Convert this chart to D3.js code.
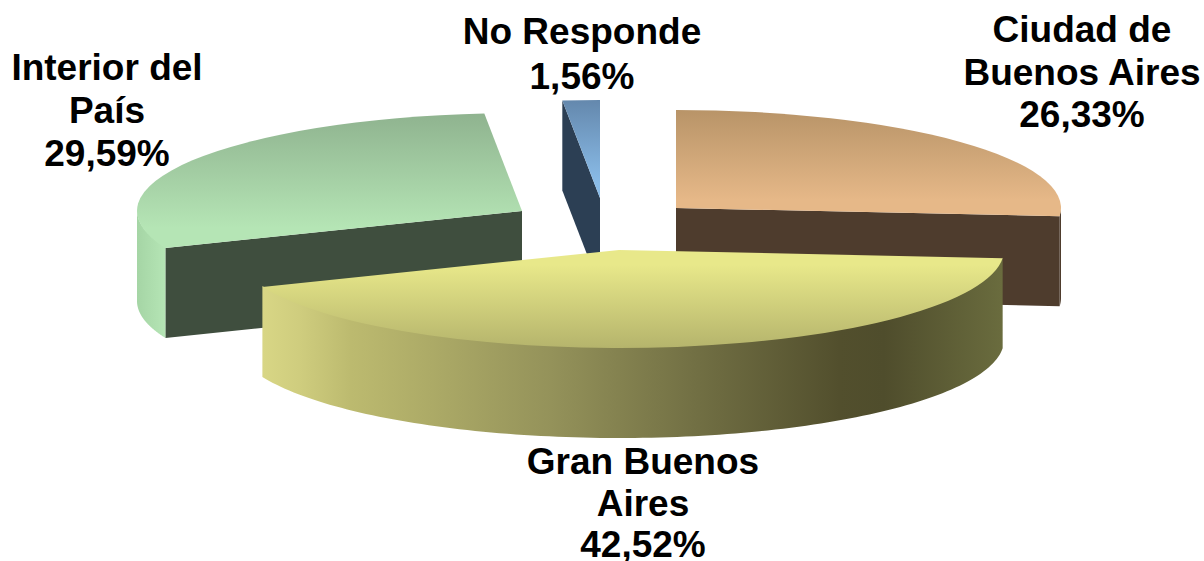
<html>
<head>
<meta charset="utf-8">
<title>Pie chart</title>
<script src="https://d3js.org/d3.v7.min.js"></script>
<style>
  html, body { margin: 0; background: #fff; }
  text { font-family: "Liberation Sans", Arial, sans-serif; font-weight: bold; fill: #000; }
</style>
</head>
<body>
<script>
var categories = ["Ciudad de Buenos Aires", "Gran Buenos Aires", "Interior del País", "No Responde"];
var percents = [26.33, 42.52, 29.59, 1.56];
var percentLabels = ["26,33%", "42,52%", "29,59%", "1,56%"];
var labelLines = [["Ciudad de", "Buenos Aires"], ["Gran Buenos", "Aires"], ["Interior del", "País"], ["No Responde"]];

// Layout and colours of the slices, same order as categories
var width = 1204, height = 561;
var rx = 385, ry = 98, depth = 90;
var centers = [[676, 208], [619, 250], [522, 211], [600, 198]];
var topColors = [["#b89468", "#e6b888"], ["#e8e88a", "#b5b46c"], ["#8fb38f", "#b5e5b5"], ["#6488ad", "#8abce8"]];
var topStops = [[0, 0.85], [0.15, 1], [0, 0.85], [0, 0.85]];
var cutColors = ["#4e3c2d", "#54532f", "#3f4e3e", "#2c3f54"];
var labelPos = [[1082, 42], [643, 474], [107, 80], [582, 44]];
var lineGaps = [42.5, 41.5, 43, 45];
var drawOrder = [2, 3, 0, 1]; // back slices first, Gran Buenos Aires on top

var svg = d3.select("body").append("svg")
    .attr("width", width)
    .attr("height", height)
    .style("display", "block");
var defs = svg.append("defs");

// Vertical gradient of every top face
topColors.forEach(function(c, i) {
  var g = defs.append("linearGradient")
      .attr("id", "top" + i)
      .attr("x1", 0).attr("y1", 0).attr("x2", 0).attr("y2", 1);
  g.append("stop").attr("offset", topStops[i][0]).attr("stop-color", c[0]);
  g.append("stop").attr("offset", topStops[i][1]).attr("stop-color", c[1]);
});

// Horizontal gradients of the round walls
function wallGradient(id, stops) {
  var g = defs.append("linearGradient")
      .attr("id", id)
      .attr("x1", 0).attr("y1", 0).attr("x2", 1).attr("y2", 0);
  stops.forEach(function(s) {
    g.append("stop").attr("offset", s[0]).attr("stop-color", s[1]);
  });
}
wallGradient("wall0", [[0, "#4e3c2d"], [1, "#4e3c2d"]]);
wallGradient("wall1", [[0, "#d8d685"], [0.05, "#cfcd7e"], [0.12, "#bcba6f"], [0.25, "#a9a765"], [0.39, "#94925a"], [0.6, "#6f6d42"], [0.78, "#524f2d"], [0.84, "#4f4d2c"], [1, "#6a6c3e"]]);
wallGradient("wall2", [[0, "#a5d5a5"], [1, "#b5e5b5"]]);
wallGradient("wall3", [[0, "#2c3f54"], [1, "#2c3f54"]]);

// Angles come straight from the values
var pie = d3.pie().sort(null).value(function(d) { return d; });
var slices = pie(percents);
var arc = d3.arc().innerRadius(0).outerRadius(rx);

function px(c, a) { return c[0] + rx * Math.sin(a); }
function py(c, a) { return c[1] - ry * Math.cos(a); }

var line = d3.line().curve(d3.curveLinear);

drawOrder.forEach(function(i) {
  var s = slices[i], c = centers[i];
  var g = svg.append("g");

  // Cut faces: visible when the normal looks down the screen
  [[s.startAngle, -Math.PI / 2], [s.endAngle, Math.PI / 2]].forEach(function(f) {
    if (Math.cos(f[0] + f[1]) >= -1e-6) return;
    var x = px(c, f[0]), y = py(c, f[0]);
    g.append("path")
        .attr("d", line([[c[0], c[1]], [x, y], [x, y + depth], [c[0], c[1] + depth]]) + "Z")
        .attr("fill", cutColors[i]);
  });

  // Round wall, only the front half of the ellipse shows
  // (upper edge goes 1px under the top face so no dark seam shows through)
  var a0 = Math.max(s.startAngle, Math.PI / 2), a1 = Math.min(s.endAngle, Math.PI * 3 / 2);
  if (a1 > a0) {
    var steps = d3.range(0, 121).map(function(k) { return a0 + (a1 - a0) * k / 120; });
    var upper = steps.map(function(a) { return [px(c, a), py(c, a) - 1]; });
    var lower = steps.slice().reverse().map(function(a) { return [px(c, a), py(c, a) + depth]; });
    g.append("path")
        .attr("d", line(upper.concat(lower)) + "Z")
        .attr("fill", "url(#wall" + i + ")");
  }

  // Top face: a d3 arc squashed into the ellipse
  g.append("path")
      .attr("transform", "translate(" + c[0] + "," + c[1] + ") scale(1," + (ry / rx) + ")")
      .attr("d", arc(s))
      .attr("fill", "url(#top" + i + ")");
});

// Labels
categories.forEach(function(name, i) {
  var lines = labelLines[i].concat([percentLabels[i]]);
  var t = svg.append("text")
      .attr("text-anchor", "middle")
      .attr("font-size", 37);
  lines.forEach(function(l, k) {
    t.append("tspan")
        .attr("x", labelPos[i][0])
        .attr("y", labelPos[i][1] + k * lineGaps[i])
        .text(l);
  });
});
</script>
</body>
</html>
